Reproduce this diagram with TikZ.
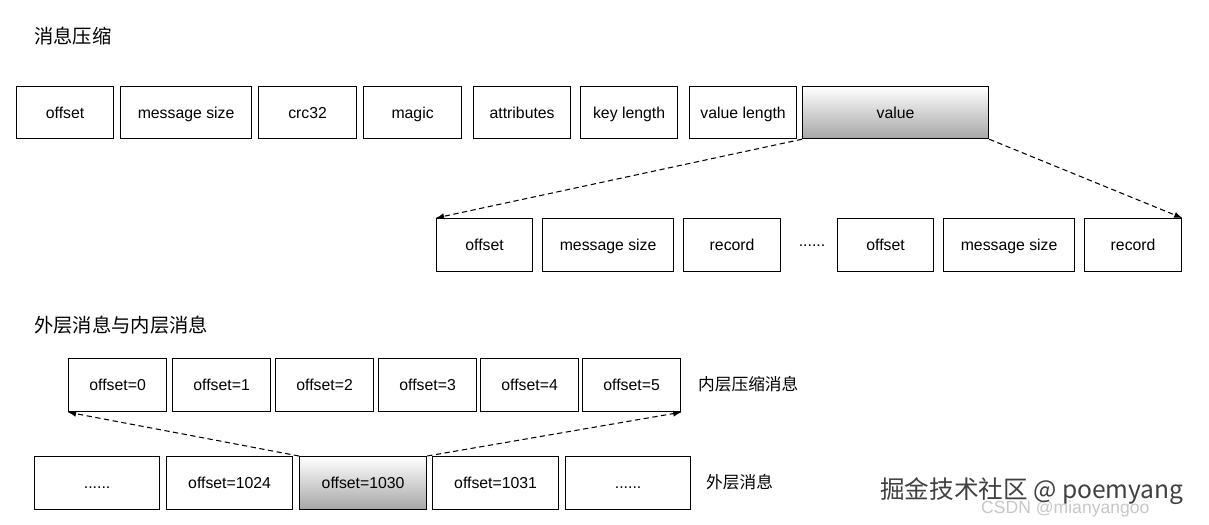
\documentclass[tikz,border=0pt]{standalone}
\usepackage{fontspec}
\setmainfont{Liberation Sans}
\newfontfamily\cjk{Noto Sans CJK SC}
\newcommand\mydots{......}
\begin{document}
\begin{tikzpicture}[x=0.02cm,y=-0.02cm,
  bx/.style={draw=black,line width=0.7pt,inner sep=0pt,text height=1.6ex,text depth=0.4ex,font=\fontsize{9}{10}\selectfont},
  gbx/.style={bx,top color=white,bottom color=black!35},
  da/.style={densely dashed,line width=0.6pt,-latex},
  lb/.style={font=\cjk\fontsize{9.5}{12}\selectfont,anchor=west},
  tt/.style={font=\cjk\fontsize{11}{13}\selectfont,anchor=west}]
\useasboundingbox (0,0) rectangle (1209,524);
\node[tt] (t1) at (28,36) {消息压缩};
\node[tt] (t2) at (28,325) {外层消息与内层消息};
% top row
\foreach \n/\a/\b/\t in {a1/16/113/offset,a2/120/251/message size,a3/258/356/crc32,a4/363/461/magic,a5/473/570/attributes,a6/580/677/key length,a7/689/796/value length}{
  \node[bx,minimum width={(\b-\a)*0.02cm},minimum height=1.04cm,anchor=north west] (\n) at (\a,86) {\t};}
\node[gbx,minimum width={186*0.02cm},minimum height=1.04cm,anchor=north west] (a8) at (802,86) {value};
% second row
\foreach \n/\a/\b/\t in {b1/436/532/offset,b2/542/673/message size,b3/683/780/record,b4/837/933/offset,b5/943/1074/message size,b6/1084/1181/record}{
  \node[bx,minimum width={(\b-\a)*0.02cm},minimum height=1.06cm,anchor=north west] (\n) at (\a,218) {\t};}
\node[font=\fontsize{9}{10}\selectfont] (dots1) at (812,246) {\mydots};
\draw[da] (a8.south west) -- (b1.north west);
\draw[da] (a8.south east) -- (b6.north east);
% inner row
\foreach \n/\a/\b/\t in {c1/68/166/offset=0,c2/172/270/offset=1,c3/275/373/offset=2,c4/378/476/offset=3,c5/480/578/offset=4,c6/582/680/offset=5}{
  \node[bx,minimum width={(\b-\a)*0.02cm},minimum height=1.06cm,anchor=north west] (\n) at (\a,358) {\t};}
\node[lb] (l1) at (692,384) {内层压缩消息};
% outer row
\foreach \n/\a/\b/\t in {d1/34/159/\mydots,d2/166/292/offset=1024,d4/432/558/offset=1031,d5/565/690/\mydots}{
  \node[bx,minimum width={(\b-\a)*0.02cm},minimum height=1.06cm,anchor=north west] (\n) at (\a,456) {\t};}
\node[gbx,minimum width={127*0.02cm},minimum height=1.06cm,anchor=north west] (d3) at (299,456) {offset=1030};
\node[lb] (l2) at (700,482) {外层消息};
\draw[da] (d3.north west) -- (c1.south west);
\draw[da] (d3.north east) -- (c6.south east);
% watermarks
\node[font=\fontsize{10}{12}\selectfont,text=black!22,anchor=west] (w2) at (975,509) {CSDN @mianyangoo};
\node[font=\cjk\fontsize{14}{16}\selectfont,text=black!75,anchor=west] (w1) at (874,491) {掘金技术社区 @ poemyang};
\end{tikzpicture}
\end{document}
